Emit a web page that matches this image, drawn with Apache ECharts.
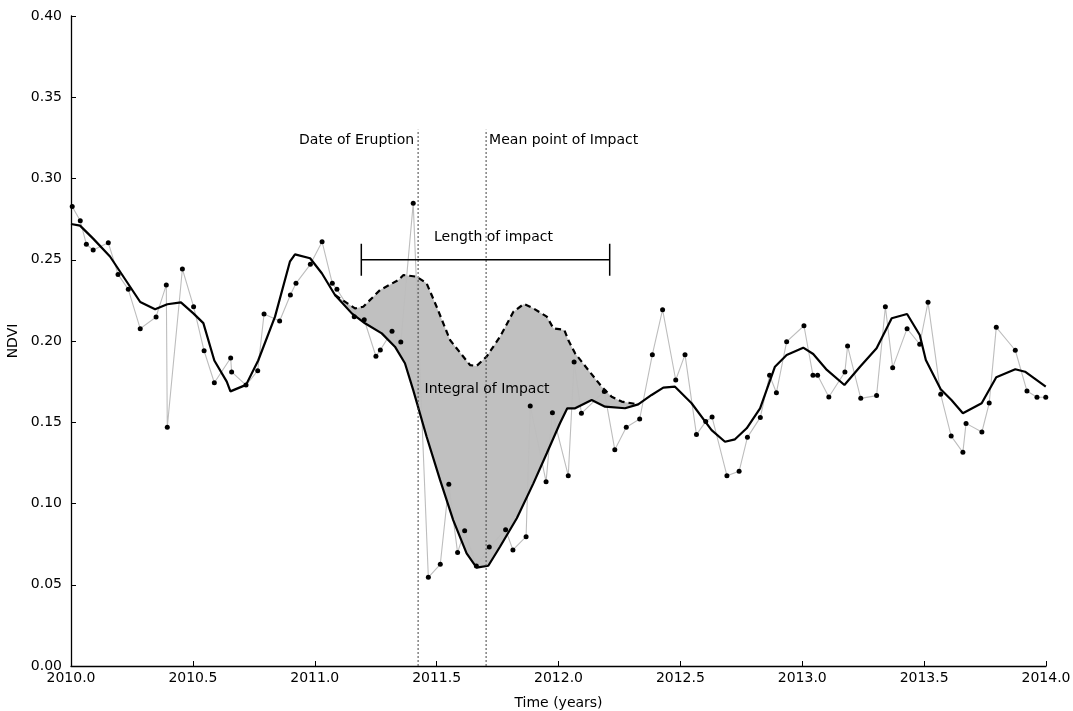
<!DOCTYPE html>
<html>
<head>
<meta charset="utf-8">
<script src="https://cdn.jsdelivr.net/npm/echarts@6/dist/echarts.min.js"></script>
<style>
  html, body { margin: 0; padding: 0; background: #fff; }
  #chart { width: 1073px; height: 711px; }
</style>
</head>
<body>
<div id="chart"></div>
<script>
// NDVI composites (decimal year, NDVI)
const rawYears = [2010.005, 2010.038, 2010.063, 2010.091, 2010.153, 2010.193, 2010.235, 2010.284, 2010.349, 2010.391,
  2010.395, 2010.457, 2010.503, 2010.546, 2010.588, 2010.655, 2010.659, 2010.718, 2010.766, 2010.792,
  2010.856, 2010.900, 2010.923, 2010.982, 2011.030, 2011.072, 2011.091, 2011.162, 2011.203, 2011.251,
  2011.269, 2011.317, 2011.353, 2011.404, 2011.466, 2011.515, 2011.550, 2011.586, 2011.615, 2011.663,
  2011.716, 2011.783, 2011.813, 2011.867, 2011.884, 2011.949, 2011.975, 2012.040, 2012.064, 2012.094,
  2012.188, 2012.231, 2012.278, 2012.333, 2012.385, 2012.427, 2012.481, 2012.519, 2012.566, 2012.604,
  2012.630, 2012.691, 2012.741, 2012.775, 2012.828, 2012.866, 2012.894, 2012.936, 2013.007, 2013.044,
  2013.063, 2013.109, 2013.175, 2013.186, 2013.240, 2013.305, 2013.341, 2013.371, 2013.430, 2013.482,
  2013.516, 2013.568, 2013.611, 2013.659, 2013.672, 2013.737, 2013.767, 2013.796, 2013.874, 2013.922,
  2013.963, 2013.999];
const rawNdvi = [0.2827, 0.274, 0.2595, 0.256, 0.2605, 0.241, 0.2318, 0.2076, 0.2148, 0.2345,
  0.1469, 0.2443, 0.2211, 0.194, 0.1743, 0.1895, 0.181, 0.1729, 0.1817, 0.2166,
  0.2123, 0.2283, 0.2355, 0.2472, 0.2611, 0.2355, 0.2318, 0.215, 0.2131, 0.1906,
  0.1945, 0.206, 0.1994, 0.2847, 0.0546, 0.0626, 0.1118, 0.0698, 0.0833, 0.0615,
  0.0732, 0.0839, 0.0714, 0.0796, 0.16, 0.1134, 0.1559, 0.1171, 0.1871, 0.1555,
  0.169, 0.1331, 0.1469, 0.152, 0.1916, 0.2193, 0.176, 0.1916, 0.1424, 0.1504,
  0.1532, 0.1171, 0.1198, 0.1407, 0.153, 0.1789, 0.1682, 0.1996, 0.2094, 0.1789,
  0.1789, 0.1655, 0.1809, 0.1969, 0.1647, 0.1664, 0.2211, 0.1836, 0.2076, 0.198,
  0.2238, 0.1672, 0.1415, 0.1315, 0.1493, 0.144, 0.1618, 0.2084, 0.1943, 0.1692,
  0.1654, 0.1654];

// Smoothed NDVI
const smoothYears = [2010.000, 2010.037, 2010.091, 2010.160, 2010.284, 2010.345, 2010.395, 2010.451, 2010.502, 2010.543,
  2010.588, 2010.639, 2010.654, 2010.718, 2010.768, 2010.837, 2010.898, 2010.919, 2010.981, 2011.029,
  2011.083, 2011.152, 2011.206, 2011.275, 2011.329, 2011.370, 2011.404, 2011.459, 2011.514, 2011.568,
  2011.623, 2011.664, 2011.712, 2011.760, 2011.829, 2011.897, 2011.952, 2012.006, 2012.036, 2012.068,
  2012.136, 2012.191, 2012.273, 2012.327, 2012.382, 2012.430, 2012.478, 2012.546, 2012.628, 2012.683,
  2012.724, 2012.772, 2012.827, 2012.888, 2012.936, 2013.004, 2013.045, 2013.101, 2013.173, 2013.237,
  2013.305, 2013.367, 2013.430, 2013.482, 2013.507, 2013.568, 2013.612, 2013.659, 2013.736, 2013.796,
  2013.874, 2013.914, 2013.999];
const smoothNdvi = [0.272, 0.271, 0.263, 0.252, 0.224, 0.2195, 0.2226, 0.2238, 0.217, 0.211,
  0.188, 0.175, 0.169, 0.173, 0.188, 0.215, 0.2488, 0.2533, 0.2509, 0.2417,
  0.2283, 0.217, 0.2109, 0.2047, 0.1965, 0.1863, 0.1698, 0.1411, 0.1145, 0.0898,
  0.0693, 0.0605, 0.0617, 0.0734, 0.0909, 0.1124, 0.1309, 0.1494, 0.1586, 0.1586,
  0.1637, 0.1596, 0.1586, 0.161, 0.1668, 0.1713, 0.1719, 0.1617, 0.1452, 0.138,
  0.1395, 0.1463, 0.1586, 0.1842, 0.1914, 0.1959, 0.192, 0.1822, 0.1729, 0.1842,
  0.1955, 0.214, 0.2166, 0.2037, 0.1883, 0.1703, 0.1637, 0.1555, 0.1617, 0.1777,
  0.1826, 0.1811, 0.1719];

// Expected NDVI without the eruption (dashed)
const baselineYears = [2011.083, 2011.165, 2011.199, 2011.268, 2011.343, 2011.364, 2011.418, 2011.459, 2011.500, 2011.555,
  2011.637, 2011.664, 2011.705, 2011.760, 2011.815, 2011.858, 2011.897, 2011.952, 2011.979, 2012.024,
  2012.040, 2012.068, 2012.122, 2012.177, 2012.218, 2012.259, 2012.300, 2012.327];
const baselineNdvi = [0.2283, 0.2201, 0.2211, 0.2314, 0.2375, 0.2406, 0.2396, 0.2355, 0.2211, 0.2006,
  0.1852, 0.1846, 0.1904, 0.2026, 0.218, 0.2228, 0.2201, 0.215, 0.2078, 0.2068,
  0.2006, 0.1924, 0.1822, 0.1719, 0.1657, 0.1627, 0.1617, 0.161];

// Events
const eruptionYear = 2011.424;
const impactMeanYear = 2011.703;
const impactStart = 2011.191;
const impactEnd = 2012.21;
const impactBarNdvi = 0.25;
const integralLabelPos = [2011.707, 0.1705];

const xTicks = ['2010.0', '2010.5', '2011.0', '2011.5', '2012.0', '2012.5', '2013.0', '2013.5', '2014.0'];
const yTicks = ['0.00', '0.05', '0.10', '0.15', '0.20', '0.25', '0.30', '0.35', '0.40'];

const zip = (xs, ys) => xs.map((x, i) => [x, ys[i]]);
const rawData = zip(rawYears, rawNdvi);
const smoothData = zip(smoothYears, smoothNdvi);
const baselineData = zip(baselineYears, baselineNdvi);

// Region between expected and smoothed curves
const bStart = baselineYears[0], bEnd = baselineYears[baselineYears.length - 1];
const lowerEdge = smoothData.filter(p => p[0] >= bStart - 1e-9 && p[0] <= bEnd + 1e-9).reverse();
const impactPolygon = baselineData.concat(lowerEdge);

const FONT = 'DejaVu Sans';
const FONT_SIZE = 14;
const chart = echarts.init(document.getElementById('chart'), null, { renderer: 'canvas' });

const axisText = { fontFamily: FONT, fontSize: FONT_SIZE, color: '#000' };

chart.setOption({
  animation: false,
  backgroundColor: '#fff',
  grid: { left: 71, right: 27, top: 16, bottom: 45, containLabel: false, outerBoundsMode: 'none' },
  xAxis: {
    type: 'value', min: 2010, max: 2014, interval: 0.5,
    name: 'Time (years)', nameLocation: 'middle', nameGap: 30,
    nameTextStyle: axisText,
    axisLine: { lineStyle: { color: '#000', width: 1.3 } },
    axisTick: { inside: true, length: 5, lineStyle: { color: '#000' } },
    axisLabel: Object.assign({ margin: 5, formatter: (v) => xTicks[Math.round((v - 2010) / 0.5)] }, axisText),
    splitLine: { show: false }
  },
  yAxis: {
    type: 'value', min: 0, max: 0.4, interval: 0.05,
    name: 'NDVI', nameLocation: 'middle', nameGap: 46, nameRotate: 90,
    nameTextStyle: axisText,
    axisLine: { show: true, lineStyle: { color: '#000', width: 1.3 } },
    axisTick: { show: true, inside: true, length: 5, lineStyle: { color: '#000' } },
    axisLabel: Object.assign({ margin: 9, formatter: (v) => yTicks[Math.round(v / 0.05)] }, axisText),
    splitLine: { show: false }
  },
  series: [
    {
      // shaded integral of impact
      type: 'custom', z: 1, silent: true,
      data: [0],
      renderItem: (params, api) => ({
        type: 'polygon',
        shape: { points: impactPolygon.map(p => api.coord(p)) },
        style: { fill: '#c0c0c0', stroke: null }
      })
    },
    {
      type: 'line', z: 2, data: rawData,
      symbol: 'circle', symbolSize: 5,
      itemStyle: { color: '#000' },
      lineStyle: { color: '#bdbdbd', width: 1.1 }
    },
    {
      type: 'line', z: 3, data: smoothData, symbol: 'none',
      lineStyle: { color: '#000', width: 2.2 }
    },
    {
      type: 'line', z: 3, data: baselineData, symbol: 'none',
      lineStyle: { color: '#000', width: 2.2, type: [6, 4] }
    },
    {
      // annotations
      type: 'custom', z: 4, silent: true, clip: false,
      data: [0],
      renderItem: (params, api) => {
        const e0 = api.coord([eruptionYear, 0]);
        const m0 = api.coord([impactMeanYear, 0]);
        const topY = api.coord([eruptionYear, 0.33])[1];
        const labelY = api.coord([eruptionYear, 0.3235])[1];
        const s = api.coord([impactStart, impactBarNdvi]);
        const en = api.coord([impactEnd, impactBarNdvi]);
        const il = api.coord(integralLabelPos);
        const dotted = { stroke: '#444', lineWidth: 1, lineDash: [2, 2] };
        const solid = { stroke: '#000', lineWidth: 1.5 };
        const txt = (x, y, text, align) => ({
          type: 'text', x: x, y: y,
          style: { text: text, fill: '#000', font: FONT_SIZE + 'px "' + FONT + '"', align: align, verticalAlign: 'middle' }
        });
        return {
          type: 'group',
          children: [
            { type: 'line', shape: { x1: e0[0], y1: e0[1], x2: e0[0], y2: topY }, style: dotted },
            { type: 'line', shape: { x1: m0[0], y1: m0[1], x2: m0[0], y2: topY }, style: dotted },
            txt(e0[0] - 4, labelY, 'Date of Eruption', 'right'),
            txt(m0[0] + 3, labelY, 'Mean point of Impact', 'left'),
            { type: 'line', shape: { x1: s[0], y1: s[1], x2: en[0], y2: en[1] }, style: solid },
            { type: 'line', shape: { x1: s[0], y1: s[1] - 16, x2: s[0], y2: s[1] + 16 }, style: solid },
            { type: 'line', shape: { x1: en[0], y1: en[1] - 16, x2: en[0], y2: en[1] + 16 }, style: solid },
            txt((s[0] + en[0]) / 2 + 8, s[1] - 22, 'Length of impact', 'center'),
            txt(il[0], il[1], 'Integral of Impact', 'center')
          ]
        };
      }
    }
  ]
});
</script>
</body>
</html>
